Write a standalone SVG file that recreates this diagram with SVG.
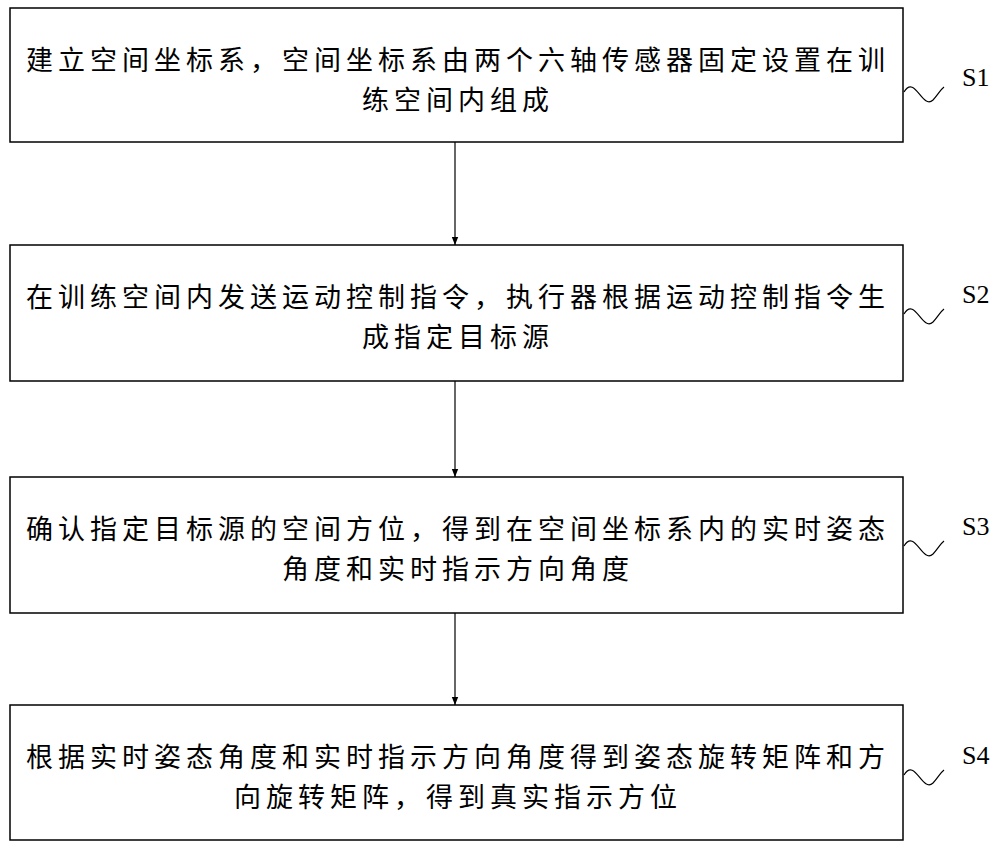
<svg xmlns="http://www.w3.org/2000/svg" width="1000" height="848" viewBox="0 0 1000 848">
<defs>
<marker id="ah" viewBox="0 0 10 10" refX="10" refY="5" markerWidth="8" markerHeight="8" orient="auto" markerUnits="userSpaceOnUse"><path d="M0,1 L10,5 L0,9 Z" fill="#000"/></marker>
<style>
.box{fill:#fff;stroke:#000;stroke-width:1.5}
.t{font-family:"Noto Sans CJK SC",sans-serif;font-size:27px;letter-spacing:5px;fill:#000;text-anchor:middle}
.s{font-family:"Liberation Serif",serif;font-size:26px;fill:#000}
.w{fill:none;stroke:#000;stroke-width:1.2}
.c{stroke:#000;stroke-width:1.2;marker-end:url(#ah)}
</style>
</defs>
<rect width="1000" height="848" fill="#fff"/>
<g id="n1"><rect class="box" x="10" y="8" width="893" height="134"/>
<text class="t" x="458" y="70">建立空间坐标系，空间坐标系由两个六轴传感器固定设置在训</text>
<text class="t" x="458" y="110">练空间内组成</text>
<path class="w" d="M904,92 C915,74 922,110 933,100 C938,95 940,90 944,87"/><text class="s" x="962" y="86">S1</text></g>
<g id="n2"><rect class="box" x="10" y="245" width="893" height="136"/>
<text class="t" x="458" y="307">在训练空间内发送运动控制指令，执行器根据运动控制指令生</text>
<text class="t" x="458" y="347">成指定目标源</text>
<path class="w" d="M904,314 C915,296 922,332 933,322 C938,317 940,312 944,309"/><text class="s" x="962" y="303">S2</text></g>
<g id="n3"><rect class="box" x="10" y="477" width="893" height="136"/>
<text class="t" x="458" y="539">确认指定目标源的空间方位，得到在空间坐标系内的实时姿态</text>
<text class="t" x="458" y="579">角度和实时指示方向角度</text>
<path class="w" d="M904,546 C915,528 922,564 933,554 C938,549 940,544 944,541"/><text class="s" x="962" y="535">S3</text></g>
<g id="n4"><rect class="box" x="10" y="705" width="893" height="135"/>
<text class="t" x="458" y="767">根据实时姿态角度和实时指示方向角度得到姿态旋转矩阵和方</text>
<text class="t" x="458" y="807">向旋转矩阵，得到真实指示方位</text>
<path class="w" d="M904,775 C915,757 922,793 933,783 C938,778 940,773 944,770"/><text class="s" x="962" y="764">S4</text></g>
<g id="connectors">
<line class="c" x1="455" y1="142" x2="455" y2="245"/>
<line class="c" x1="455" y1="381" x2="455" y2="477"/>
<line class="c" x1="455" y1="613" x2="455" y2="705"/>
</g>
</svg>
